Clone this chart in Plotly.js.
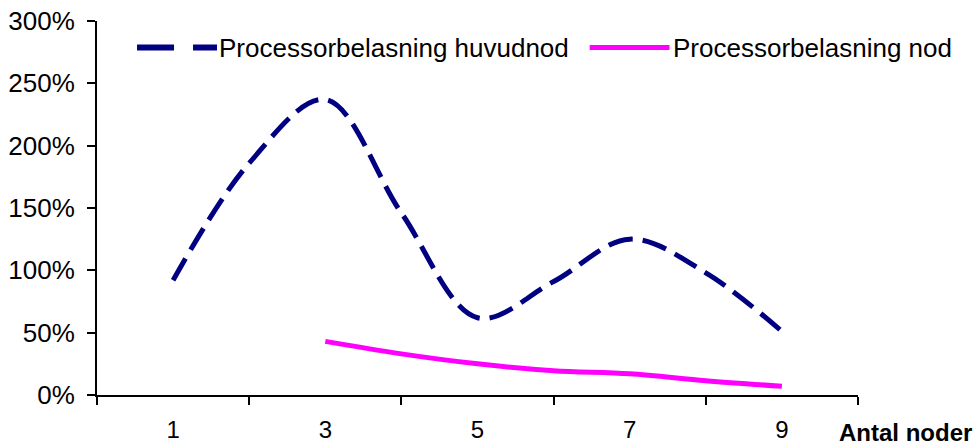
<!DOCTYPE html>
<html>
<head>
<meta charset="utf-8">
<script src="https://cdn.plot.ly/plotly-3.0.1.min.js"></script>
<style>
  html, body { margin: 0; padding: 0; background: #ffffff; }
  #chart { width: 979px; height: 445px; }
</style>
</head>
<body>
<div id="chart"></div>
<script>
// Antal noder (number of nodes) on the category axis
const noder = [1, 2, 3, 4, 5, 6, 7, 8, 9];
const tickNoder = [1, 3, 5, 7, 9];
const tickText = ['1', '3', '5', '7', '9'];

// Processor load as a fraction (1 = 100%)
const huvudnod = [0.92, 1.86, 2.37, 1.46, 0.62, 0.91, 1.25, 0.98, 0.51];
const nod = [null, null, 0.43, 0.33, 0.25, 0.195, 0.17, 0.115, 0.07];

const namnHuvudnod = 'Processorbelasning huvudnod';
const namnNod = 'Processorbelasning nod';

const FONT = 'Liberation Sans, Arial, Helvetica, sans-serif';
const NAVY = '#000080';
const MAGENTA = '#FF00FF';

const traces = [
  {
    x: noder, y: huvudnod, name: namnHuvudnod, type: 'scatter', mode: 'lines',
    line: { color: NAVY, width: 5, dash: '25px,10px', shape: 'spline', smoothing: 1 },
    showlegend: false, hoverinfo: 'skip'
  },
  {
    x: noder, y: nod, name: namnNod, type: 'scatter', mode: 'lines',
    line: { color: MAGENTA, width: 5, shape: 'spline', smoothing: 1 },
    connectgaps: false, showlegend: false, hoverinfo: 'skip'
  }
];

// Legend drawn as sample lines plus text labels along the top of the plot
const legendY = 0.929;
const shapes = [
  { type: 'line', xref: 'paper', yref: 'paper', x0: 0.0526, x1: 0.1577, y0: legendY, y1: legendY,
    line: { color: NAVY, width: 6, dash: '37px,19px' } },
  { type: 'line', xref: 'paper', yref: 'paper', x0: 0.6474, x1: 0.7523, y0: legendY, y1: legendY,
    line: { color: MAGENTA, width: 5 } }
];

const annotations = [
  { xref: 'paper', yref: 'paper', x: 0.159, y: legendY, xanchor: 'left', yanchor: 'middle',
    text: namnHuvudnod, showarrow: false, borderpad: 0, font: { family: FONT, size: 26, color: '#000' } },
  { xref: 'paper', yref: 'paper', x: 0.755, y: legendY, xanchor: 'left', yanchor: 'middle',
    text: namnNod, showarrow: false, borderpad: 0, font: { family: FONT, size: 26, color: '#000' } },
  { xref: 'paper', yref: 'paper', x: 1.151, y: -0.099, xanchor: 'right', yanchor: 'middle',
    text: '<b>Antal noder</b>', showarrow: false, borderpad: 0, font: { family: FONT, size: 24, color: '#000' } }
];

const layout = {
  width: 979, height: 445,
  margin: { l: 97, r: 121, t: 21, b: 50, pad: 0 },
  paper_bgcolor: '#ffffff', plot_bgcolor: '#ffffff',
  font: { family: FONT, size: 26, color: '#000' },
  showlegend: false,
  xaxis: {
    range: [0, 10], showgrid: false, zeroline: false,
    showline: true, linecolor: '#000', linewidth: 2,
    tickmode: 'array', tickvals: tickNoder, ticktext: tickText,
    tickfont: { family: FONT, size: 24, color: '#000' },
    ticks: '', ticklabelstandoff: 12,
    minor: { ticks: 'outside', tick0: 0, dtick: 2, ticklen: 8, tickwidth: 2, tickcolor: '#000', showgrid: false },
    fixedrange: true
  },
  yaxis: {
    range: [0, 3], dtick: 0.5, tick0: 0, tickformat: '.0%',
    showgrid: false, zeroline: false,
    showline: true, linecolor: '#000', linewidth: 2,
    ticks: 'outside', ticklen: 8, tickwidth: 2, tickcolor: '#000',
    ticklabelstandoff: 7,
    fixedrange: true
  },
  shapes: shapes,
  annotations: annotations
};

Plotly.newPlot('chart', traces, layout, { staticPlot: true, displayModeBar: false });
</script>
</body>
</html>
